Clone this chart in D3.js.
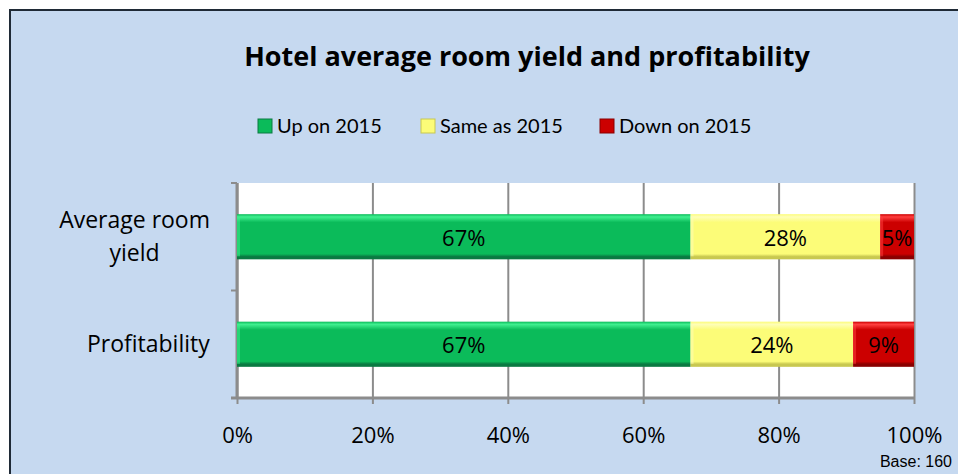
<!DOCTYPE html>
<html>
<head>
<meta charset="utf-8">
<script src="https://cdn.jsdelivr.net/npm/d3@7"></script>
<style>
  body { margin: 0; background: #fff; }
  text { font-family: "Open Sans", Lato, sans-serif; fill: #000; }
</style>
</head>
<body>
<svg width="958" height="474"></svg>
<script>
const categories = [['Average room', 'yield'], ['Profitability']];
const series = ['Up on 2015', 'Same as 2015', 'Down on 2015'];
const upValues = [67, 67];
const sameValues = [28, 24];
const downValues = [5, 9];
const xTicks = [0, 20, 40, 60, 80, 100];

const colors = {
	'Up on 2015': { base: '#0bbb5a', light: '#40f090', dark: '#0a7a42' },
	'Same as 2015': { base: '#fcfc78', light: '#fefeb8', dark: '#c8c850' },
	'Down on 2015': { base: '#cc0000', light: '#ff4040', dark: '#8a0000' },
};

const svg = d3.select('svg');
const width = +svg.attr('width');
const height = +svg.attr('height');

// chart frame
svg.append('rect')
	.attr('x', 10).attr('y', 10)
	.attr('width', width).attr('height', height)
	.attr('fill', '#c6d9f0')
	.attr('stroke', '#1f2a36')
	.attr('stroke-width', 2);

const margin = { top: 183, right: 44, bottom: 76, left: 237 };
const innerW = width - margin.left - margin.right;
const innerH = height - margin.top - margin.bottom;

const defs = svg.append('defs');
series.forEach((s, i) => {
	const c = colors[s];
	const grad = defs.append('linearGradient')
		.attr('id', 'g' + i)
		.attr('x1', 0).attr('y1', 0).attr('x2', 0).attr('y2', 1);
	grad.append('stop').attr('offset', '0%').attr('stop-color', c.base);
	grad.append('stop').attr('offset', '6%').attr('stop-color', c.light);
	grad.append('stop').attr('offset', '18%').attr('stop-color', c.base);
	grad.append('stop').attr('offset', '88%').attr('stop-color', c.base);
	grad.append('stop').attr('offset', '94%').attr('stop-color', c.dark);
	grad.append('stop').attr('offset', '100%').attr('stop-color', c.dark);
});

const table = categories.map((c, i) => ({
	key: i,
	label: c,
	'Up on 2015': upValues[i],
	'Same as 2015': sameValues[i],
	'Down on 2015': downValues[i],
}));

const stacked = d3.stack().keys(series)(table);

const xScale = d3.scaleLinear().domain([0, 100]).range([0, innerW]);
const yScale = d3.scaleBand()
	.domain(table.map(d => d.key))
	.range([0, innerH])
	.paddingInner(0.58)
	.paddingOuter(0.29);

const g = svg.append('g')
	.attr('transform', `translate(${margin.left},${margin.top})`);

g.append('rect')
	.attr('width', innerW).attr('height', innerH)
	.attr('fill', '#fff');

// gridlines + x axis
const xAxis = g.append('g')
	.attr('transform', `translate(0,${innerH})`)
	.call(d3.axisBottom(xScale)
		.tickValues(xTicks)
		.tickFormat(d => d + '%')
		.tickSize(-innerH));
xAxis.select('.domain').remove();
xAxis.selectAll('.tick line')
	.attr('stroke', '#8c8c8c').attr('stroke-width', 2)
	.attr('y2', -innerH).attr('y1', 6);
xAxis.selectAll('.tick text')
	.style('font-size', '22px')
	.attr('y', 45)
	.attr('dy', 0);

g.append('line')
	.attr('x1', -6).attr('x2', innerW)
	.attr('y1', innerH).attr('y2', innerH)
	.attr('stroke', '#8c8c8c').attr('stroke-width', 3);

// y axis line and ticks between categories
g.append('line')
	.attr('x1', 0).attr('x2', 0)
	.attr('y1', 0).attr('y2', innerH)
	.attr('stroke', '#8c8c8c').attr('stroke-width', 3);
const bandStep = yScale.step();
[0, 1, 2].forEach(i => {
	const y = yScale(0) - yScale.step() * yScale.paddingOuter() + i * bandStep;
	g.append('line')
		.attr('x1', -6).attr('x2', 0)
		.attr('y1', y).attr('y2', y)
		.attr('stroke', '#8c8c8c').attr('stroke-width', 2);
});

// bars
const layers = g.selectAll('.layer').data(stacked).enter()
	.append('g').attr('class', 'layer');

layers.selectAll('rect.bar').data((d, i) => d.map(p => ({ p, i, key: d.key }))).enter()
	.append('rect')
	.attr('class', 'bar')
	.attr('x', d => xScale(d.p[0]))
	.attr('y', d => yScale(d.p.data.key))
	.attr('width', d => xScale(d.p[1]) - xScale(d.p[0]))
	.attr('height', yScale.bandwidth())
	.attr('fill', d => `url(#g${d.i})`);

// left bevel edge
layers.selectAll('rect.bevel').data((d, i) => d.map(p => ({ p, i, key: d.key }))).enter()
	.append('rect')
	.attr('class', 'bevel')
	.attr('x', d => xScale(d.p[0]))
	.attr('y', d => yScale(d.p.data.key) + 3)
	.attr('width', 3)
	.attr('height', yScale.bandwidth() - 6)
	.attr('fill', d => colors[d.key].light)
	.attr('opacity', 0.5);

layers.selectAll('text').data(d => d.map(p => p)).enter()
	.append('text')
	.attr('x', d => (xScale(d[0]) + xScale(d[1])) / 2)
	.attr('y', d => yScale(d.data.key) + yScale.bandwidth() / 2 + 9)
	.attr('text-anchor', 'middle')
	.style('font-size', '22px')
	.text(d => (d[1] - d[0]) + '%');

// category labels
table.forEach(d => {
	const cy = yScale(d.key) + yScale.bandwidth() / 2;
	const lines = d.label;
	const t = svg.append('text')
		.attr('text-anchor', 'middle')
		.style('font-size', '23px');
	lines.forEach((l, j) => {
		t.append('tspan')
			.attr('x', 0)
			.attr('y', margin.top + cy + 8 + (j - (lines.length - 1) / 2) * 33)
			.text(l);
	});
	const w = t.node().getBBox().width;
	t.selectAll('tspan').attr('x', 210 - w / 2);
});

// title
svg.append('text')
	.attr('x', 527).attr('y', 66)
	.attr('text-anchor', 'middle')
	.style('font-size', '27px')
	.style('font-weight', 'bold')
	.text('Hotel average room yield and profitability');

// legend
const legendX = [258, 421, 600];
const legend = svg.append('g');
series.forEach((s, i) => {
	const lg = legend.append('g').attr('transform', `translate(${legendX[i]},126)`);
	lg.append('rect')
		.attr('x', 0).attr('y', -7)
		.attr('width', 14).attr('height', 14)
		.attr('fill', colors[s].base)
		.attr('stroke', colors[s].dark).attr('stroke-width', 1);
	lg.append('text')
		.attr('x', 19).attr('y', 7)
		.style('font-family', 'Lato, sans-serif')
		.style('font-size', '20px')
		.text(s);
});

// base note
svg.append('text')
	.attr('x', 952).attr('y', 467)
	.attr('text-anchor', 'end')
	.style('font-family', '"Liberation Sans", Arial, sans-serif')
	.style('font-size', '16px')
	.text('Base: 160');
</script>
</body>
</html>
